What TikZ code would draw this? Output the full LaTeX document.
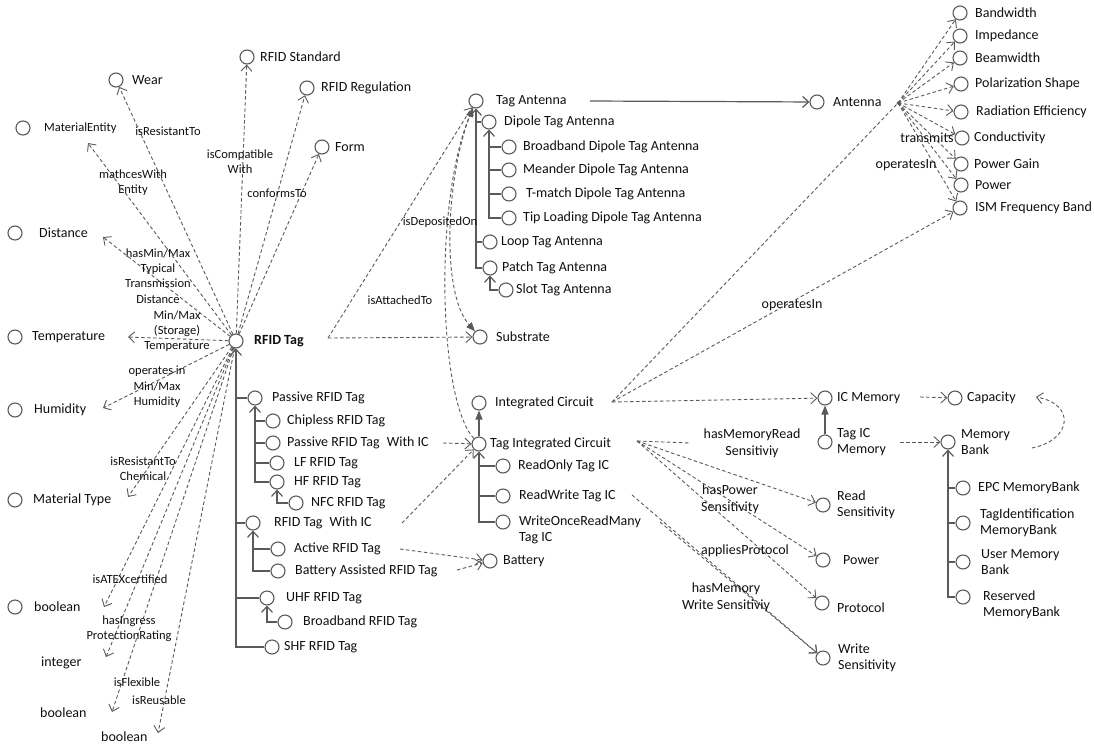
\documentclass[tikz,border=0pt]{standalone}
\usepackage{fontspec}
\setmainfont{Carlito}
\usetikzlibrary{arrows.meta}
\definecolor{ln}{HTML}{5A5A5A}
\definecolor{tx}{HTML}{101010}
\newcommand\mkcls[6][]{\node[cls] (#2) at (#3,#4) {}; \node[lbl,#1] (#2t) at (#5,#4) {#6};}
\begin{document}
\begin{tikzpicture}[x=1pt,y=-1pt,
  cls/.style={circle,draw=ln,fill=white,line width=1.1pt,minimum size=14pt,inner sep=0pt},
  lbl/.style={anchor=west,inner sep=1pt,font=\fontsize{14}{16.5}\selectfont,text=tx,align=left},
  elbl/.style={inner sep=1pt,font=\fontsize{12.5}{15.3}\selectfont,text=tx,align=center},
  elbr/.style={inner sep=1pt,font=\fontsize{14}{17}\selectfont,text=tx,align=center},
  dep/.style={draw=ln,line width=0.9pt,dash pattern=on 3.5pt off 2.5pt,-{Straight Barb[length=6pt,width=11pt]}},
  depn/.style={draw=ln,line width=0.9pt,dash pattern=on 3.5pt off 2.5pt},
  depf/.style={draw=ln,line width=0.9pt,dash pattern=on 3.5pt off 2.5pt,-{Triangle[length=9pt,width=7pt]}},
  tree/.style={draw=ln,line width=1.2pt},
  treea/.style={draw=ln,line width=1.2pt,-{Straight Barb[length=6pt,width=11pt]}},
  solf/.style={draw=ln,line width=1.2pt,-{Triangle[length=9pt,width=7pt]}},
]
\fill[white] (0,0) rectangle (1094,747);
\useasboundingbox (0,0) rectangle (1094,747);

% ---------- left cluster ----------
\mkcls{wear}{116}{80}{131}{Wear}
\mkcls{std}{247}{57}{259}{RFID Standard}
\mkcls{reg}{307}{88}{320}{RFID Regulation}
\mkcls[font=\fontsize{12.5}{15}\selectfont]{ment}{23}{128}{43}{MaterialEntity}
\mkcls{form}{322}{147}{334}{Form}
\mkcls{dist}{15}{233}{38}{Distance}
\mkcls{temp}{15}{337}{31}{Temperature}
\mkcls{hum}{15}{410}{33}{Humidity}
\mkcls{mtype}{15}{500}{32}{Material Type}
\mkcls{bool}{15}{607}{33}{boolean}
\node[lbl] (int) at (40,663) {integer};
\node[lbl] (boolb) at (39,713) {boolean};
\node[lbl] (boolc) at (100,737) {boolean};
\mkcls[font=\bfseries\fontsize{14}{16.5}\selectfont]{rfid}{236}{341}{253}{RFID Tag}

\coordinate (e-ment) at (88,143);
\coordinate (e-dist) at (103,237);
\coordinate (e-temp) at (128,337);
\coordinate (e-hum) at (103,408);
\coordinate (e-mt) at (128,497);
\coordinate (e-bool) at (104,607);
\coordinate (e-int) at (106,657);
\coordinate (e-boolb) at (112,712);
\coordinate (e-boolc) at (158,733);
\foreach \t in {wear,std,reg,form,e-ment,e-dist,e-temp,e-hum,e-mt,e-bool,e-int,e-boolb,e-boolc}
  \draw[dep] (rfid) -- (\t);

\node[elbl] (l1) at (168,131) {isResistantTo};
\node[elbl] (l2) at (133,183) {mathcesWith\\Entity};
\node[elbl] (l3) at (240,162) {isCompatible\\With};
\node[elbl] (l4) at (277,193) {conformsTo};
\node[elbl] (l5) at (158,276) {hasMin/Max\\Typical\\Transmission\\Distance};
\node[elbl] (l6) at (177,331) {Min/Max\\(Storage)\\Temperature};
\node[elbl] (l7) at (157,387) {operates in\\Min/Max\\Humidity};
\node[elbl] (l8) at (143,469) {isResistantTo\\Chemical};
\node[elbl] (l9) at (130,579) {isATEXcertified};
\node[elbl] (l10) at (129,629) {hasIngress\\ProtectionRating};
\node[elbl] (l11) at (137,682) {isFlexible};
\node[elbl] (l12) at (159,700) {isReusable};

% ---------- RFID tag subclasses ----------
\mkcls{pas}{255}{398}{271}{Passive RFID Tag}
\mkcls{chip}{273}{421}{286}{Chipless RFID Tag}
\mkcls{pwic}{273}{443}{286}{Passive RFID Tag\hspace{4pt} With IC}
\mkcls{lf}{277}{463}{293}{LF RFID Tag}
\mkcls{hf}{277}{482}{293}{HF RFID Tag}
\mkcls{nfc}{296}{503}{310}{NFC RFID Tag}
\mkcls{wic}{253}{523}{273}{RFID Tag\hspace{4pt} With IC}
\mkcls{act}{278}{549}{293}{Active RFID Tag}
\mkcls{bat}{278}{571}{294}{Battery Assisted RFID Tag}
\mkcls{uhf}{267}{598}{285}{UHF RFID Tag}
\mkcls{bb}{285}{622}{302}{Broadband RFID Tag}
\mkcls{shf}{272}{647}{283}{SHF RFID Tag}

\draw[treea] (shf) -| (rfid);
\foreach \n in {pas,wic,uhf} \draw[tree] (\n) -- (rfid |- \n);
\draw[treea] (hf) -| (pas);
\foreach \n in {chip,pwic,lf} \draw[tree] (\n) -- (pas |- \n);
\draw[treea] (nfc) -| (hf);
\draw[treea] (bat) -| (wic);
\draw[tree] (act) -- (wic |- act);
\draw[treea] (bb) -| (uhf);

% ---------- tag antenna ----------
\mkcls{tant}{476}{101}{495}{Tag Antenna}
\mkcls{dip}{489}{122}{503}{Dipole Tag Antenna}
\mkcls{bdip}{509}{147}{522}{Broadband Dipole Tag Antenna}
\mkcls{mdip}{509}{170}{522}{Meander Dipole Tag Antenna}
\mkcls{tdip}{509}{194}{525}{T-match Dipole Tag Antenna}
\mkcls{tipd}{509}{218}{522}{Tip Loading Dipole Tag Antenna}
\mkcls{loop}{490}{242}{500}{Loop Tag Antenna}
\mkcls{patch}{490}{268}{501}{Patch Tag Antenna}
\mkcls{slot}{506}{290}{515}{Slot Tag Antenna}
\draw[treea] (patch) -| (tant);
\draw[tree] (dip) -- (tant |- dip);
\draw[tree] (loop) -- (tant |- loop);
\draw[treea] (tipd) -| (dip);
\foreach \n in {bdip,mdip,tdip} \draw[tree] (\n) -- (dip |- \n);
\draw[treea] (slot) -| (patch);

\mkcls{sub}{480}{337}{495}{Substrate}

% ---------- integrated circuit ----------
\mkcls{ic}{479}{403}{494}{Integrated Circuit}
\mkcls{tic}{479}{444}{489}{Tag Integrated Circuit}
\mkcls{rotic}{503}{466}{517}{ReadOnly Tag IC}
\mkcls{rwtic}{503}{496}{518}{ReadWrite Tag IC}
\mkcls[yshift=-8pt]{wtic}{503}{522}{518}{WriteOnceReadMany\\Tag IC}
\mkcls{batt}{490}{561}{502}{Battery}
\draw[solf] (tic) -- (ic);
\draw[treea] (wtic) -| (tic);
\foreach \n in {rotic,rwtic} \draw[tree] (\n) -- (tic |- \n);

% links among RFID tag / antenna / substrate / IC
\coordinate (av) at (328,338);
\draw[dep] (av) -- (tant);
\draw[dep] (av) -- (sub);
\draw[depf] (tant) .. controls (446,170) and (440,292) .. (sub);
\draw[depf] (tic) .. controls (438,400) and (434,200) .. (tant);
\node[elbl] (l13) at (400,300) {isAttachedTo};
\node[elbl] (l14) at (440,222) {isDepositedOn};

\coordinate (pwx) at (443,443);
\coordinate (wicx) at (402,523);
\draw[dep] (pwx) -- (tic);
\draw[dep] (wicx) -- (tic);
\coordinate (actx) at (400,549);
\coordinate (basx) at (457,570);
\draw[dep] (actx) -- (batt);
\draw[dep] (basx) -- (batt);

% ---------- antenna ----------
\mkcls{ant}{817}{102}{832}{Antenna}
\coordinate (tae) at (590,101);
\draw[treea] (tae) -- (ant);

\mkcls{bw}{960}{13}{974}{Bandwidth}
\mkcls{imp}{960}{36}{974}{Impedance}
\mkcls{bmw}{960}{58}{974}{Beamwidth}
\mkcls{pol}{961}{84}{974}{Polarization Shape}
\mkcls{rad}{961}{112}{975}{Radiation Efficiency}
\mkcls{cond}{962}{138}{973}{Conductivity}
\mkcls{pg}{961}{164}{973}{Power Gain}
\mkcls{pow}{961}{185}{974}{Power}
\mkcls{ism}{960}{208}{974}{ISM Frequency Band}
\coordinate (hub) at (898,103);
\foreach \t in {bw,imp,bmw,pol,rad,cond,pg,pow,ism} \draw[dep] (hub) -- (\t);
\fill[ln] (hub) circle (1.6pt);
\node[elbr] (l15) at (927,138) {transmits};
\node[elbr] (l16) at (906,165) {operatesIn};

\coordinate (icx) at (612,402);
\draw[depn] (icx) -- (hub);
\node[elbr] (l17) at (792,305) {operatesIn};

% ---------- memory ----------
\mkcls{icm}{825}{398}{836}{IC Memory}
\mkcls{ticm}{825}{442}{836}{Tag IC\\Memory}
\mkcls{cap}{955}{398}{966}{Capacity}
\mkcls{mb}{948}{442}{960}{Memory\\Bank}
\mkcls{epc}{963}{488}{977}{EPC MemoryBank}
\mkcls{tidm}{963}{523}{979}{TagIdentification\\MemoryBank}
\mkcls{umb}{963}{562}{980}{User Memory\\Bank}
\mkcls[yshift=-8pt]{rmb}{963}{597}{982}{Reserved\\MemoryBank}
\draw[solf] (ticm) -- (icm);
\draw[treea] (rmb) -| (mb);
\foreach \n in {epc,tidm,umb} \draw[tree] (\n) -- (mb |- \n);
\draw[dep] (icx) -- (icm);
\draw[dep] (icx) -- (ism);
\coordinate (icmx) at (920,397);
\draw[dep] (icmx) -- (cap);
\coordinate (ticmx) at (900,442);
\draw[dep] (ticmx) -- (mb);
\coordinate (mbx) at (1032,448);
\coordinate (capx) at (1036,397);
\draw[dep] (mbx) .. controls (1072,440) and (1076,404) .. (capx);

% ---------- sensitivities ----------
\mkcls{rs}{823}{505}{836}{Read\\Sensitivity}
\mkcls{pw}{823}{560}{842}{Power}
\mkcls[yshift=-5pt]{prot}{822}{603}{836}{Protocol}
\mkcls{ws}{823}{658}{837}{Write\\Sensitivity}
\coordinate (tcx) at (637,441);
\node[elbr] (hmr) at (752,443) {hasMemoryRead\\Sensitiviy};
\draw[depn] (tcx) -- ([xshift=-12pt]hmr.west);
\draw[dep] (tcx) -- (rs);
\draw[dep] (tcx) -- (pw);
\draw[dep] (tcx) -- (prot);
\coordinate (rwx) at (632,495);
\coordinate (wox) at (660,522);
\draw[dep] (rwx) -- (ws);
\draw[dep] (wox) -- (ws);
\node[elbr] (l19) at (730,499) {hasPower\\Sensitivity};
\node[elbr] (l20) at (745,551) {appliesProtocol};
\node[elbr] (l21) at (726,597) {hasMemory\\Write Sensitiviy};
\end{tikzpicture}
\end{document}
